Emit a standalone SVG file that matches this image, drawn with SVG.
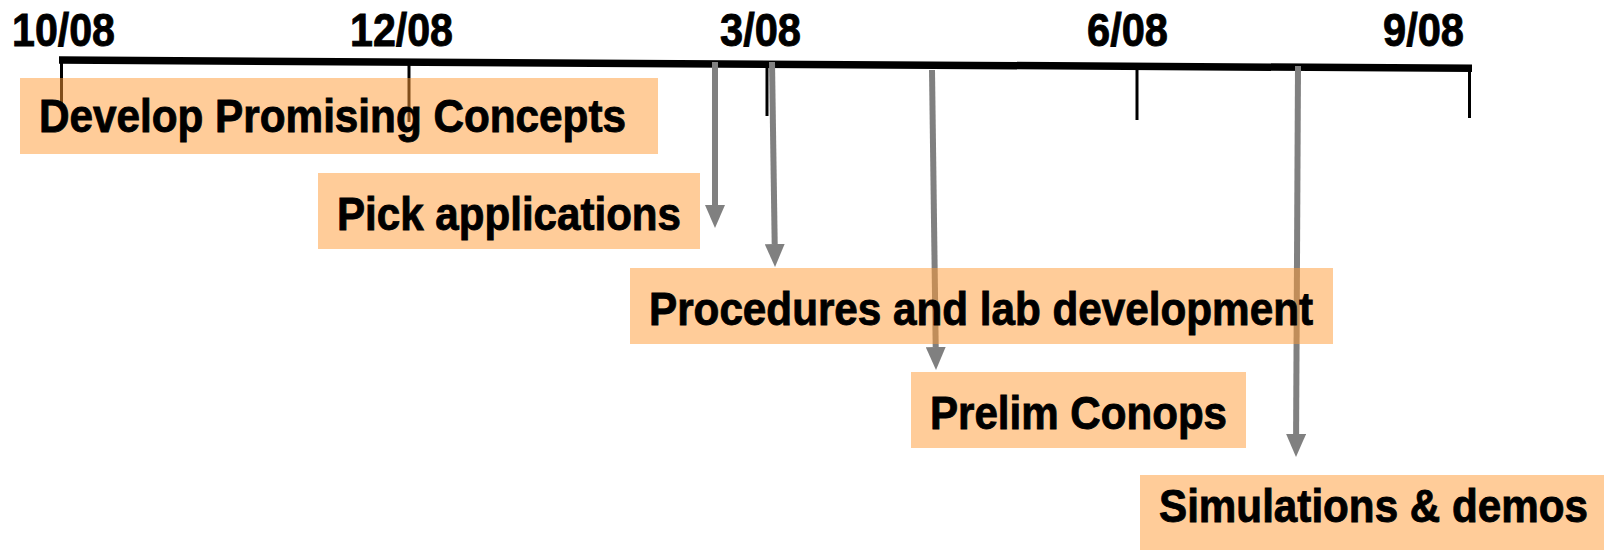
<svg xmlns="http://www.w3.org/2000/svg" width="1604" height="550" viewBox="0 0 1604 550">
  <defs>
    <marker id="ah" markerUnits="userSpaceOnUse" markerWidth="23" markerHeight="20" refX="0" refY="10" orient="auto" viewBox="0 0 23 20">
      <path d="M0,0 L23,10 L0,20 Z" fill="#808080"/>
    </marker>
    <style>
      text { font-family: "Liberation Sans", Arial, sans-serif; font-weight: bold; font-size: 47px; fill: #000; stroke: #000; stroke-width: 0.9; }
      .box { fill: #FF9933; fill-opacity: 0.5; }
      .tick { stroke: #000; stroke-width: 3; fill: none; }
      .axis { stroke: #000; stroke-width: 7.5; fill: none; }
      .arrow { stroke: #808080; stroke-width: 6; fill: none; marker-end: url(#ah); }
    </style>
  </defs>
  <rect width="1604" height="550" fill="#fff"/>
  <g id="timeline">
    <line class="axis" x1="59" y1="60" x2="1472" y2="68.3"/>
    <line class="tick" x1="61.5" y1="57" x2="61.5" y2="103"/>
    <line class="tick" x1="409" y1="62" x2="409" y2="122"/>
    <line class="tick" x1="767" y1="62" x2="767" y2="116"/>
    <line class="tick" x1="1137" y1="66" x2="1137" y2="120"/>
    <line class="tick" x1="1469.5" y1="66" x2="1469.5" y2="118"/>
    <text x="12" y="46" textLength="103" lengthAdjust="spacingAndGlyphs">10/08</text>
    <text x="350" y="46" textLength="103" lengthAdjust="spacingAndGlyphs">12/08</text>
    <text x="720" y="46" textLength="81" lengthAdjust="spacingAndGlyphs">3/08</text>
    <text x="1087" y="46" textLength="81" lengthAdjust="spacingAndGlyphs">6/08</text>
    <text x="1383" y="46" textLength="81" lengthAdjust="spacingAndGlyphs">9/08</text>
  </g>
  <g id="connectors">
    <path class="arrow" d="M715,62 L715,205"/>
    <path class="arrow" d="M772,62 L774.7,244"/>
    <path class="arrow" d="M932,70 L935.7,347"/>
    <path class="arrow" d="M1298,66 L1296.1,434"/>
  </g>
  <g id="node-develop">
    <rect class="box" x="20" y="78" width="638" height="76"/>
    <text x="39" y="132" textLength="587" lengthAdjust="spacingAndGlyphs">Develop Promising Concepts</text>
  </g>
  <g id="node-pick">
    <rect class="box" x="318" y="173" width="382" height="76"/>
    <text x="337" y="230" textLength="344" lengthAdjust="spacingAndGlyphs">Pick applications</text>
  </g>
  <g id="node-procedures">
    <rect class="box" x="630" y="268" width="703" height="76"/>
    <text x="649" y="325" textLength="664" lengthAdjust="spacingAndGlyphs">Procedures and lab development</text>
  </g>
  <g id="node-prelim">
    <rect class="box" x="911" y="372" width="335" height="76"/>
    <text x="930" y="429" textLength="297" lengthAdjust="spacingAndGlyphs">Prelim Conops</text>
  </g>
  <g id="node-simulations">
    <rect class="box" x="1140" y="475" width="464" height="76"/>
    <text x="1159" y="522" textLength="429" lengthAdjust="spacingAndGlyphs">Simulations &amp; demos</text>
  </g>
</svg>
